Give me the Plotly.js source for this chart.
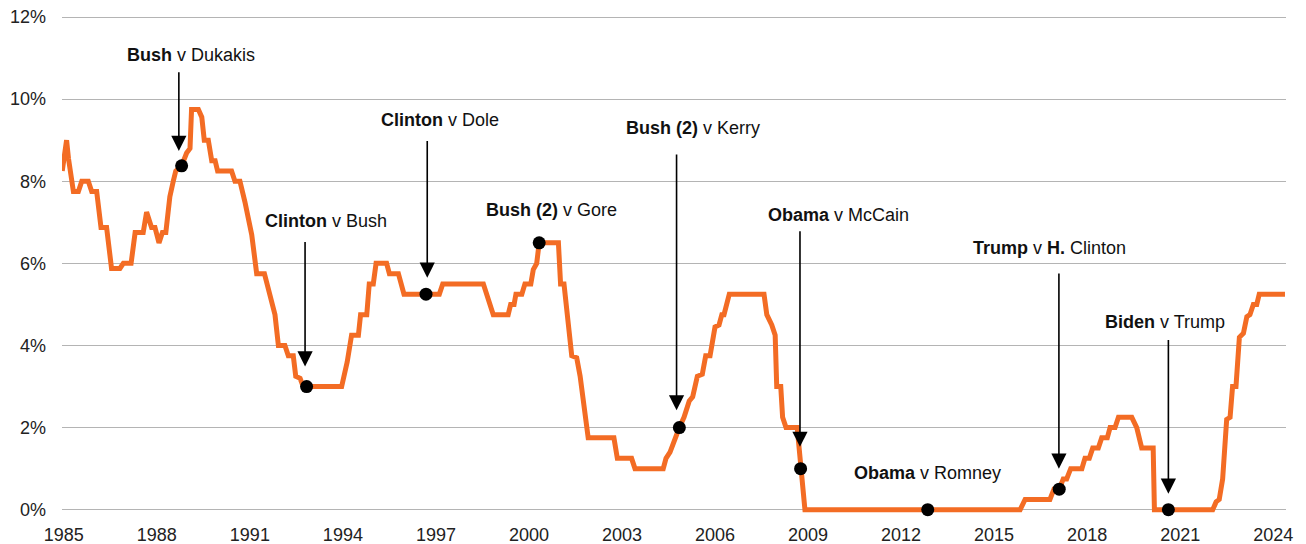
<!DOCTYPE html>
<html>
<head>
<meta charset="utf-8">
<script src="https://cdn.plot.ly/plotly-3.0.1.min.js"></script>
<style>
  html, body { margin: 0; padding: 0; background: #fff; }
  #chart { width: 1306px; height: 544px; }
</style>
</head>
<body>
<div id="chart"></div>
<script>
// Federal funds rate (%), by decimal year
const rateDates = [
  1984.95, 1985.09, 1985.15, 1985.22, 1985.31, 1985.47, 1985.58, 1985.79, 1985.90, 1986.06,
  1986.20, 1986.38, 1986.54, 1986.81, 1986.92, 1987.17, 1987.30, 1987.56, 1987.67, 1987.83,
  1987.94, 1988.07, 1988.18, 1988.29, 1988.42, 1988.53, 1988.61, 1988.80, 1988.96, 1989.07,
  1989.12, 1989.34, 1989.45, 1989.53, 1989.66, 1989.77, 1989.88, 1989.96, 1990.41, 1990.52,
  1990.68, 1990.84, 1991.06, 1991.22, 1991.47, 1991.81, 1991.92, 1992.13, 1992.24, 1992.40,
  1992.48, 1992.62, 1992.72, 1992.83, 1993.96, 1994.14, 1994.28, 1994.50, 1994.57, 1994.77,
  1994.85, 1994.98, 1995.07, 1995.41, 1995.50, 1995.79, 1995.97, 1996.68, 1997.11, 1997.22,
  1998.53, 1998.85, 1999.33, 1999.41, 1999.52, 1999.58, 1999.77, 1999.87, 2000.06, 2000.14,
  2000.25, 2000.33, 2000.95, 2001.02, 2001.13, 2001.38, 2001.54, 2001.65, 2001.91, 2002.74,
  2002.85, 2003.31, 2003.42, 2004.33, 2004.42, 2004.55, 2004.71, 2004.85, 2005.00, 2005.17,
  2005.28, 2005.43, 2005.59, 2005.70, 2005.84, 2006.00, 2006.13, 2006.22, 2006.29, 2006.46,
  2007.58, 2007.67, 2007.83, 2007.94, 2007.99, 2008.12, 2008.18, 2008.29, 2008.65, 2008.72,
  2008.76, 2008.90, 2012.86, 2015.84, 2016.00, 2016.80, 2016.93, 2017.10, 2017.23, 2017.34,
  2017.47, 2017.83, 2017.93, 2018.07, 2018.18, 2018.36, 2018.47, 2018.65, 2018.74, 2018.90,
  2019.01, 2019.44, 2019.60, 2019.76, 2020.13, 2020.17, 2020.62, 2022.05, 2022.16, 2022.26,
  2022.37, 2022.50, 2022.61, 2022.69, 2022.80, 2022.91, 2023.04, 2023.15, 2023.25, 2023.36,
  2023.47, 2023.55, 2024.38
];
const rateValues = [
  8.25, 9.0, 8.56, 8.25, 7.75, 7.75, 8.0, 8.0, 7.75, 7.75,
  6.875, 6.875, 5.875, 5.875, 6.0, 6.0, 6.75, 6.75, 7.25, 6.875,
  6.875, 6.5, 6.75, 6.75, 7.625, 8.0, 8.25, 8.375, 8.6875, 8.8,
  9.75, 9.75, 9.56, 9.0, 9.0, 8.5, 8.5, 8.25, 8.25, 8.0,
  8.0, 7.5, 6.7, 5.75, 5.75, 4.75, 4.0, 4.0, 3.75, 3.75,
  3.25, 3.2, 3.0, 3.0, 3.0, 3.6, 4.25, 4.25, 4.75, 4.75,
  5.5, 5.5, 6.0, 6.0, 5.75, 5.75, 5.25, 5.25, 5.25, 5.5,
  5.5, 4.75, 4.75, 5.0, 5.0, 5.25, 5.25, 5.5, 5.5, 5.85,
  6.0, 6.5, 6.5, 5.5, 5.5, 3.75, 3.7, 3.25, 1.75, 1.75,
  1.25, 1.25, 1.0, 1.0, 1.25, 1.4, 1.75, 2.0, 2.25, 2.65,
  2.75, 3.25, 3.3, 3.75, 3.75, 4.45, 4.5, 4.75, 4.75, 5.25,
  5.25, 4.75, 4.5, 4.25, 3.0, 3.0, 2.25, 2.0, 2.0, 1.5,
  1.0, 0.0, 0.0, 0.0, 0.25, 0.25, 0.5, 0.5, 0.75, 0.75,
  1.0, 1.0, 1.25, 1.25, 1.5, 1.5, 1.75, 1.75, 2.0, 2.0,
  2.25, 2.25, 2.0, 1.5, 1.5, 0.0, 0.0, 0.0, 0.19, 0.25,
  0.75, 2.2, 2.25, 3.0, 3.0, 4.2, 4.3, 4.7, 4.75, 5.0,
  5.0, 5.25, 5.25
];

// Presidential elections: matchup, date marked on the line, rate at that point
const electionLabels = [
  '<b>Bush</b> v Dukakis',
  '<b>Clinton</b> v Bush',
  '<b>Clinton</b> v Dole',
  '<b>Bush (2)</b> v Gore',
  '<b>Bush (2)</b> v Kerry',
  '<b>Obama</b> v McCain',
  '<b>Obama</b> v Romney',
  '<b>Trump</b> v <b>H.</b> Clinton',
  '<b>Biden</b> v Trump'
];
const electionDates = [1988.80, 1992.83, 1996.68, 2000.33, 2004.85, 2008.76, 2012.86, 2017.10, 2020.62];
const electionRates = [8.375, 3.0, 5.25, 6.5, 2.0, 1.0, 0.0, 0.5, 0.0];

// Axis ticks
const xTickYears = [1985, 1988, 1991, 1994, 1997, 2000, 2003, 2006, 2009, 2012, 2015, 2018, 2021, 2024];
const yTickValues = [0, 2, 4, 6, 8, 10, 12];

// Label placement (label centre) and pointer arrows (tail -> tip), one per election
const labelPlacement = [
  {x: 1989.11, y: 11.08},
  {x: 1993.45, y: 7.02},
  {x: 1997.14, y: 9.49},
  {x: 2000.72, y: 7.30},
  {x: 2005.28, y: 9.29},
  {x: 2009.99, y: 7.18},
  {x: 2012.84, y: 0.89},
  {x: 2016.79, y: 6.37},
  {x: 2020.52, y: 4.58}
];
const pointerArrows = [
  {x: 1988.71, tail: 10.69, tip: 8.74},
  {x: 1992.78, tail: 6.56, tip: 3.49},
  {x: 1996.72, tail: 9.02, tip: 5.65},
  null,
  {x: 2004.76, tail: 8.69, tip: 2.42},
  {x: 2008.74, tail: 6.82, tip: 1.53},
  null,
  {x: 2017.09, tail: 5.79, tip: 1.00},
  {x: 2020.62, tail: 4.17, tip: 0.39}
];

const FONT = '"Liberation Sans", Arial, sans-serif';

const traces = [
  {
    type: 'scatter',
    mode: 'lines',
    x: rateDates,
    y: rateValues,
    line: {color: '#f36c24', width: 5, shape: 'linear'},
    hoverinfo: 'skip'
  },
  {
    type: 'scatter',
    mode: 'markers',
    x: electionDates,
    y: electionRates,
    marker: {color: '#000', size: 13},
    cliponaxis: false,
    hoverinfo: 'skip'
  }
];

const annotations = [];
electionLabels.forEach((label, i) => {
  const a = pointerArrows[i];
  if (a) {
    annotations.push({
      xref: 'x', yref: 'y', axref: 'x', ayref: 'y',
      x: a.x, y: a.tip, ax: a.x, ay: a.tail,
      text: '', showarrow: true,
      arrowhead: 2, arrowsize: 1.9, arrowwidth: 1.6, arrowcolor: '#000'
    });
  }
  annotations.push({
    xref: 'x', yref: 'y',
    x: labelPlacement[i].x, y: labelPlacement[i].y,
    text: label, showarrow: false,
    xanchor: 'center', yanchor: 'middle',
    font: {family: FONT, size: 18, color: '#111'}
  });
});

const layout = {
  width: 1306,
  height: 544,
  margin: {l: 62, r: 20, t: 14.65, b: 22.4, pad: 0},
  paper_bgcolor: '#fff',
  plot_bgcolor: '#fff',
  showlegend: false,
  font: {family: FONT, size: 18, color: '#222'},
  xaxis: {
    range: [1984.942, 2024.413],
    tickvals: xTickYears,
    ticktext: xTickYears.map(String),
    showgrid: false,
    zeroline: false,
    showline: false,
    ticks: '',
    tickfont: {family: FONT, size: 18, color: '#222'},
    ticklabelstandoff: 0
  },
  yaxis: {
    range: [-0.3, 12.05],
    tickvals: yTickValues,
    ticktext: yTickValues.map(v => v + '%'),
    showgrid: true,
    gridcolor: '#b4b4b4',
    gridwidth: 1,
    zeroline: false,
    showline: false,
    ticks: '',
    tickfont: {family: FONT, size: 18, color: '#222'},
    ticklabelstandoff: 15
  },
  annotations: annotations
};

Plotly.newPlot('chart', traces, layout, {displayModeBar: false, staticPlot: true});
</script>
</body>
</html>
